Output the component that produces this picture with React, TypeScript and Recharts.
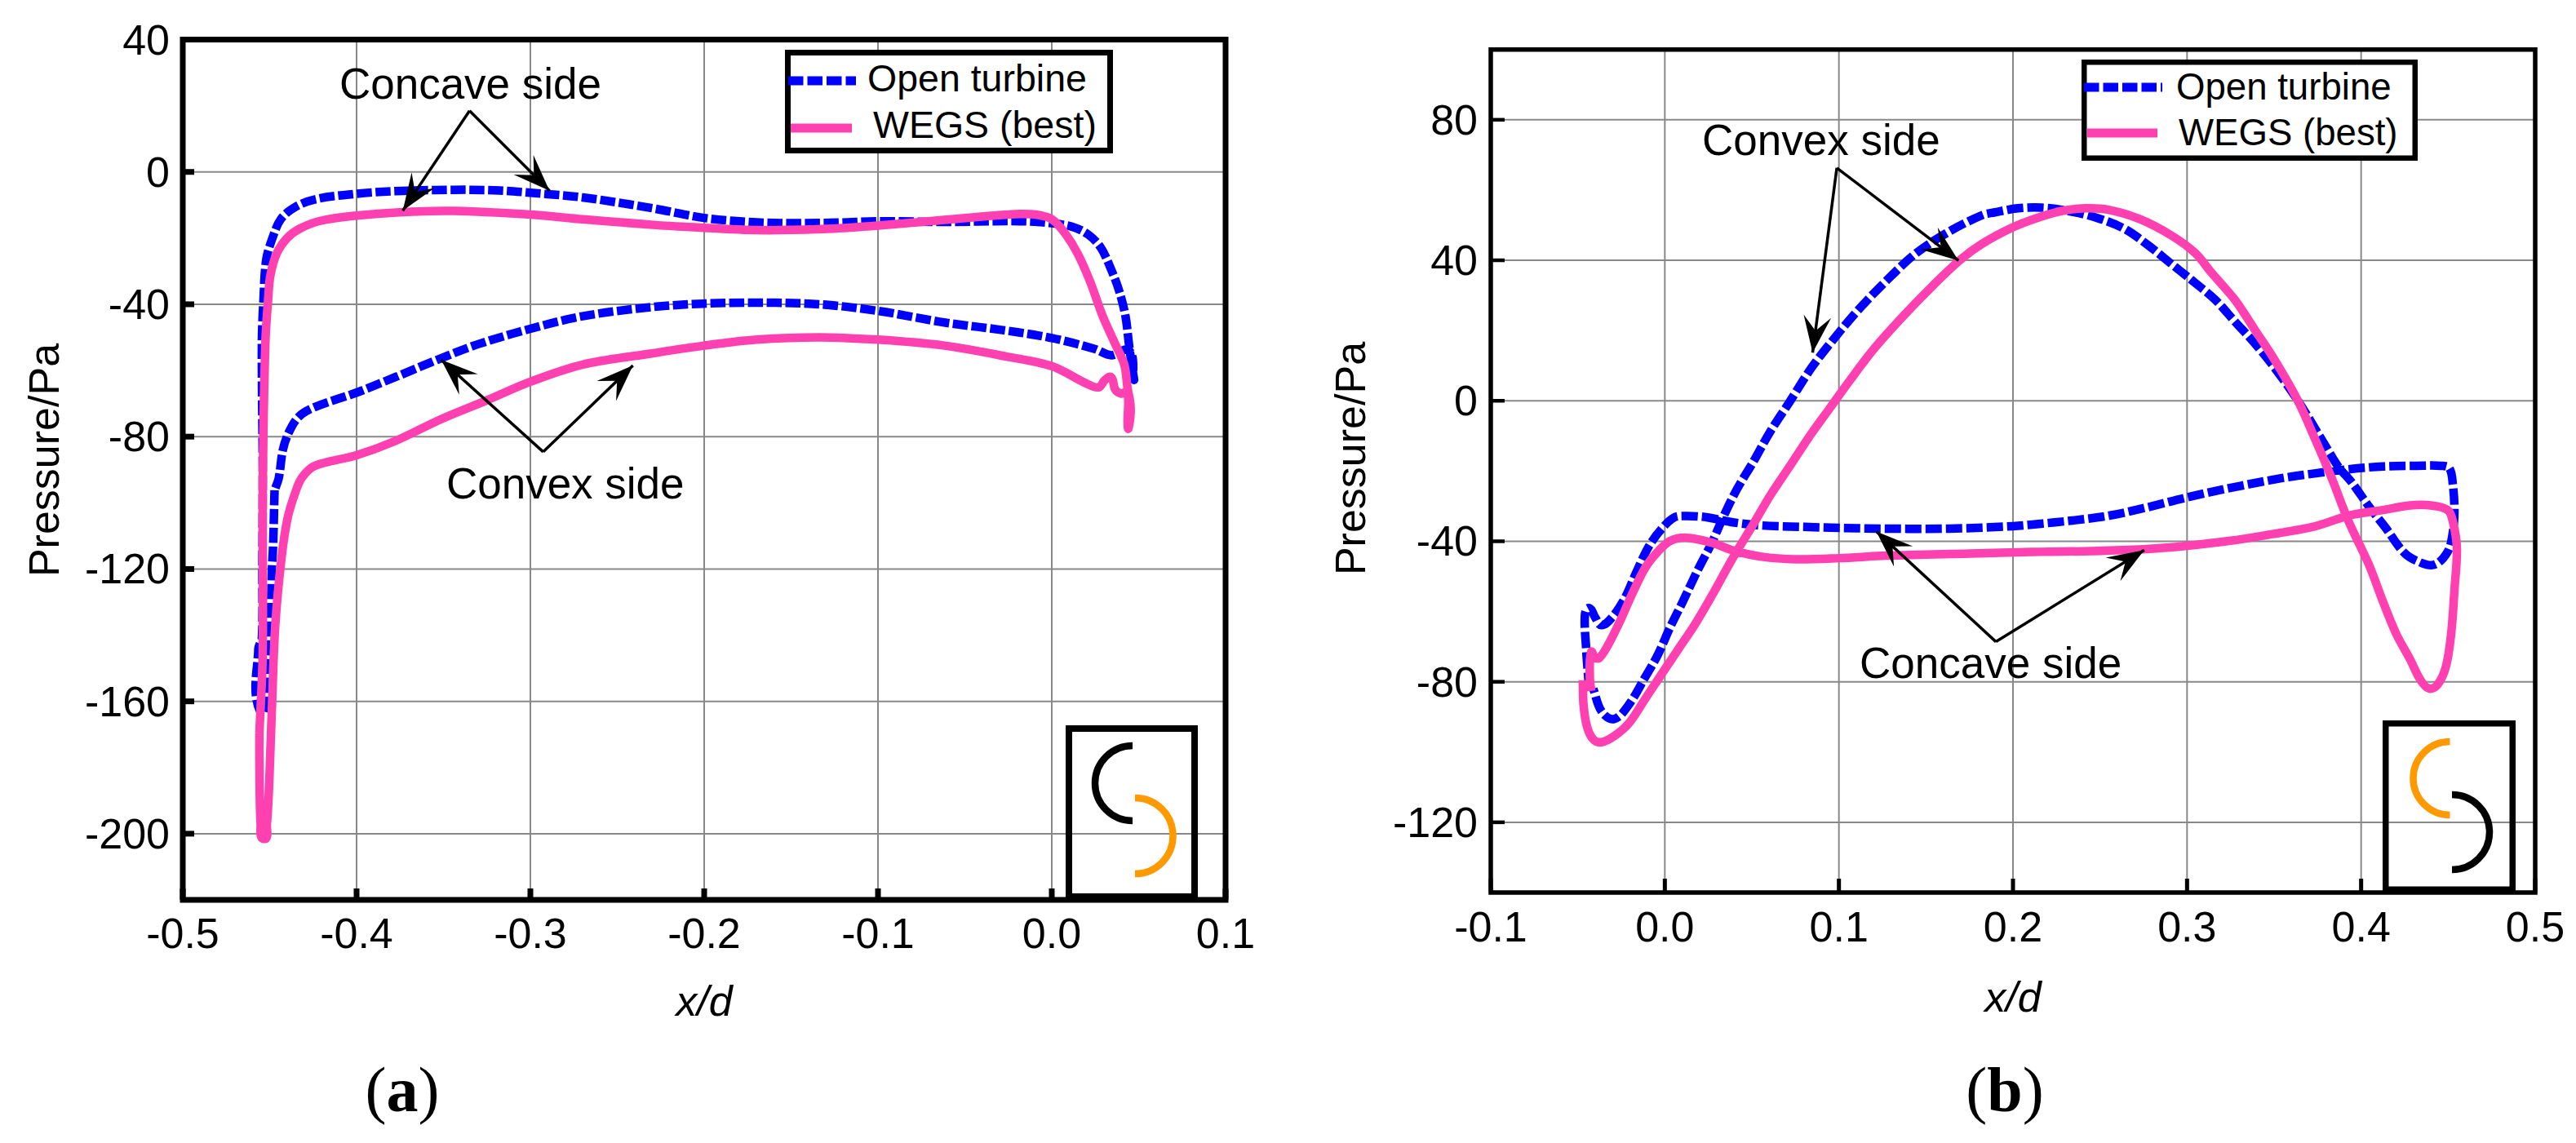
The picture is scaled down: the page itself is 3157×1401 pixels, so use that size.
import React from "react";
import {
  CartesianGrid,
  Legend,
  Line,
  LineChart,
  ReferenceArea,
  ReferenceDot,
  ReferenceLine,
  XAxis,
  YAxis,
} from "recharts";

const SANS = '"Liberation Sans", Arial, sans-serif';
const BLUE = "#0000ff";
const PINK = "#ff40b0";
const ORANGE = "#ff9900";

const openTurbineA = [
  [-0.4472, -96.2], [-0.448, -112.6], [-0.4487, -120], [-0.4496, -135.6], [-0.4516, -149.5], [-0.4555, -163],
  [-0.4565, -144], [-0.4545, -141], [-0.4542, -120], [-0.454, -90], [-0.4545, -52], [-0.4535, -38], [-0.452, -26.6],
  [-0.4484, -20], [-0.4436, -14.3], [-0.4353, -10.6], [-0.4233, -8.2], [-0.4, -6.6], [-0.3777, -5.8],
  [-0.344, -5.4], [-0.3177, -5.6], [-0.3, -6.3], [-0.27, -7.7], [-0.2295, -11], [-0.2, -13.9],
  [-0.1746, -15.1], [-0.1506, -15.5], [-0.1218, -15.3], [-0.1, -14.9], [-0.0619, -15.1], [-0.0187, -14.9],
  [0, -15.5], [0.0125, -16.7], [0.0209, -18.9], [0.0281, -22.8], [0.0341, -29.4], [0.0388, -36],
  [0.0424, -43.6], [0.0444, -52], [0.0456, -56.8], [0.0472, -62.5], [0.0445, -54], [0.0343, -55.4],
  [0.0247, -53.5], [0, -50.2], [-0.0283, -47.8], [-0.0619, -45.5], [-0.1, -42], [-0.1338, -40],
  [-0.1698, -39.5], [-0.2, -39.8], [-0.2295, -40.8], [-0.27, -43.6], [-0.3, -47.4], [-0.3297, -52],
  [-0.3513, -56.3], [-0.3777, -62], [-0.4, -66.7], [-0.4233, -70.9], [-0.4329, -73.8], [-0.4388, -78.5],
  [-0.4424, -84], [-0.4448, -92.6], [-0.4472, -96.2],
];
const wegsA = [
  [-0.4559, -169.5], [-0.4559, -178], [-0.4552, -197], [-0.4532, -201.6], [-0.4516, -197], [-0.4504, -186.4],
  [-0.4487, -161.8], [-0.4468, -137.2], [-0.4432, -116.7], [-0.4396, -104.4], [-0.4348, -96.2], [-0.4317, -92.6],
  [-0.4257, -89.3], [-0.4185, -87.9], [-0.4, -85.6], [-0.3777, -81.3], [-0.3513, -74.7], [-0.325, -69],
  [-0.3, -63.4], [-0.2698, -58.2], [-0.2295, -54.8], [-0.2, -52.5], [-0.1698, -50.7], [-0.1338, -50],
  [-0.1, -50.7], [-0.0619, -52.5], [-0.0259, -55.8], [0, -58.7], [0.0197, -63.9], [0.0269, -65.1],
  [0.0305, -62.9], [0.0341, -62], [0.0365, -65.8], [0.04, -67], [0.0436, -66.5], [0.0438, -77.4],
  [0.0452, -74], [0.0452, -70], [0.0436, -65.3], [0.0417, -58.2], [0.0365, -52], [0.0293, -43.6], [0.0221, -33.2],
  [0.0149, -24.7], [0.0077, -18.6], [0, -14.3], [-0.0091, -12.9], [-0.0187, -12.7], [-0.0331, -13.2],
  [-0.0619, -14.5], [-0.1, -16.2], [-0.129, -17.2], [-0.1578, -17.6], [-0.177, -17.5], [-0.2, -16.9],
  [-0.2295, -16], [-0.2698, -14.3], [-0.3, -12.9], [-0.3441, -11.8], [-0.3753, -12.2], [-0.4, -13.2],
  [-0.4209, -14.8], [-0.4329, -17.2], [-0.44, -20], [-0.446, -24.7], [-0.4496, -31.3], [-0.4508, -37.9],
  [-0.4525, -52], [-0.454, -96], [-0.454, -145.4], [-0.4559, -169.5],
];

// panel (b)
const openTurbineB = [
  [-0.0435, -82], [-0.0452, -70.6], [-0.0459, -60.8], [-0.0435, -59], [-0.04, -61.7], [-0.0364, -63.9],
  [-0.0304, -61.7], [-0.0232, -56.4], [-0.016, -48.4], [-0.0089, -41.2], [-0.0017, -36.4], [0.0055, -33.2],
  [0.0127, -32.8], [0.0246, -33.2], [0.039, -34.6], [0.0557, -35.5], [0.0797, -35.9], [0.1, -36.2],
  [0.1275, -36.4], [0.1634, -36.4], [0.2, -35.7], [0.2159, -35], [0.2356, -34], [0.2552, -32.7],
  [0.2749, -30.6], [0.3, -27.5], [0.324, -24.9], [0.3534, -22.1], [0.3731, -20.7], [0.3927, -19.5],
  [0.4124, -18.7], [0.432, -18.5], [0.4458, -18.5], [0.4507, -19.2], [0.4527, -23.9], [0.4536, -31.1],
  [0.4527, -37.4], [0.4497, -43], [0.4418, -46.7], [0.432, -45.6], [0.4242, -43], [0.4143, -36.3],
  [0.4045, -30.1], [0.3947, -23.3], [0.3868, -18.7], [0.379, -12.4], [0.3637, 0], [0.3501, 9.5],
  [0.3388, 16.4], [0.3274, 22.6], [0.3161, 28.8], [0.3048, 33.5], [0.2912, 38.9], [0.2776, 44.3],
  [0.2639, 49], [0.2481, 52.1], [0.2322, 54], [0.2163, 55], [0.2027, 54.8], [0.1891, 53.6],
  [0.1825, 52.9], [0.1634, 48.2], [0.1443, 42], [0.1275, 34.3], [0.1108, 25.7], [0.0964, 17.2],
  [0.0844, 9.5], [0.0713, -0.6], [0.0605, -8.8], [0.051, -17.2], [0.0414, -25.2], [0.0342, -32.4],
  [0.027, -40.4], [0.0187, -48.4], [0.0103, -57.2], [0.0031, -64.4], [-0.0041, -72.4], [-0.0112, -78.6],
  [-0.0208, -86.6], [-0.0292, -90.6], [-0.0364, -88.4], [-0.0411, -82],
];
const wegsB = [
  [-0.0471, -79.5], [-0.0467, -86.6], [-0.0447, -92.8], [-0.0411, -96.4], [-0.0364, -97.2], [-0.0292, -95.5],
  [-0.0208, -91.9], [-0.0112, -84.8], [-0.0017, -77.7], [0.0079, -70.6], [0.0175, -63.5], [0.027, -55.5],
  [0.039, -44.8], [0.051, -35], [0.0605, -27], [0.0725, -18.1], [0.0844, -9.2], [0.0952, -1.8],
  [0.106, 5.6], [0.1203, 14.9], [0.1371, 24.2], [0.1538, 32.7], [0.1694, 40], [0.1823, 44.7],
  [0.2, 49.4], [0.2141, 52.1], [0.2277, 54], [0.2413, 54.8], [0.2549, 54.4], [0.273, 51.7],
  [0.2912, 47], [0.3048, 42], [0.3138, 36.6], [0.3274, 28.8], [0.3388, 20.3], [0.3501, 11.8],
  [0.3637, 0], [0.3731, -10.4], [0.3829, -21.8], [0.3927, -34.2], [0.4045, -46.7], [0.4124, -57],
  [0.4202, -66.4], [0.4281, -73.6], [0.434, -79.4], [0.4389, -81.9], [0.4438, -80.9], [0.4487, -75.7],
  [0.4517, -66.4], [0.4536, -53.9], [0.455, -41.9], [0.4526, -34.2], [0.4497, -31.1], [0.4399, -29.8],
  [0.4281, -29.8], [0.4124, -31.1], [0.3927, -32.7], [0.3731, -35.8], [0.3436, -38.4], [0.324, -39.9],
  [0.3, -41.3], [0.2749, -42.3], [0.2454, -42.8], [0.2159, -43], [0.1754, -43.5], [0.1275, -44.1],
  [0.1, -44.8], [0.0749, -45.1], [0.0557, -44.4], [0.039, -42.6], [0.027, -40.4], [0.0127, -39],
  [0.0031, -39.9], [-0.0041, -43], [-0.0112, -47.5], [-0.0184, -54.6], [-0.0256, -62.6], [-0.0328, -69.7],
  [-0.0376, -73.2], [-0.04, -73.2], [-0.0423, -71.5], [-0.0431, -78.6], [-0.0423, -82.6],
];

const xTicksA = [-0.5, -0.4, -0.3, -0.2, -0.1, 0, 0.1];
const yTicksA = [-200, -160, -120, -80, -40, 0, 40];
const xTicksB = [-0.1, 0, 0.1, 0.2, 0.3, 0.4, 0.5];
const yTicksB = [-120, -80, -40, 0, 40, 80];

// [apex x, apex y, tip x, tip y]
const arrowsA = [
  [-0.335, 18.5, -0.3734, -11.7],
  [-0.335, 18.5, -0.289, -5.7],
  [-0.2926, -84.6, -0.3513, -56.8],
  [-0.2926, -84.6, -0.241, -58.5],
];
const arrowsB = [
  [0.0988, 66.3, 0.0849, 13.7],
  [0.0988, 66.3, 0.1687, 39.9],
  [0.1902, -68.6, 0.1215, -37.2],
  [0.1902, -68.6, 0.2754, -42.5],
];
const notesA = [
  { text: "Concave side", x: -0.4099, y: 22.06 },
  { text: "Convex side", x: -0.3484, y: -98.8 },
];
const notesB = [
  { text: "Convex side", x: 0.0214, y: 69.9 },
  { text: "Concave side", x: 0.1119, y: -78.9 },
];

const toPoints = (pairs: number[][]) => pairs.map(([x, y]) => ({ x, y }));

// loops double back in x, so the stock monotone curves don't fit; rounded spline through the points
function loopCurve(ctx: any) {
  let pts: number[][] = [];
  const tangent = (i: number) => {
    const a = pts[Math.max(i - 1, 0)];
    const b = pts[Math.min(i + 1, pts.length - 1)];
    const dx = b[0] - a[0];
    const dy = b[1] - a[1];
    const len = Math.hypot(dx, dy) || 1;
    return [dx / len, dy / len];
  };
  return {
    areaStart() {},
    areaEnd() {},
    lineStart() {
      pts = [];
    },
    point(x: number, y: number) {
      pts.push([+x, +y]);
    },
    lineEnd() {
      pts.forEach((p, i) => {
        if (i === 0) {
          ctx.moveTo(p[0], p[1]);
          return;
        }
        const q = pts[i - 1];
        const d = Math.hypot(p[0] - q[0], p[1] - q[1]) / 3;
        const t0 = tangent(i - 1);
        const t1 = tangent(i);
        ctx.bezierCurveTo(q[0] + t0[0] * d, q[1] + t0[1] * d, p[0] - t1[0] * d, p[1] - t1[1] * d, p[0], p[1]);
      });
    },
  };
}

function ArrowShape(props: any) {
  const { x1, y1, x2, y2 } = props;
  const a = Math.atan2(y2 - y1, x2 - x1);
  const at = (back: number, side: number) => {
    const px = x2 - back * Math.cos(a) - side * Math.sin(a);
    const py = y2 - back * Math.sin(a) + side * Math.cos(a);
    return `${px},${py}`;
  };
  return (
    <g>
      <line x1={x1} y1={y1} x2={x2} y2={y2} stroke="#000" strokeWidth={3.5} />
      <polygon points={`${x2},${y2} ${at(45, 17)} ${at(27, 0)} ${at(45, -17)}`} fill="#000" />
    </g>
  );
}

function makeLegend(o: any) {
  return function LegendBox(props: any) {
    const items = props.payload || [];
    return (
      <svg width={o.w} height={o.h} style={{ display: "block" }}>
        <rect x={o.b / 2} y={o.b / 2} width={o.w - o.b} height={o.h - o.b} fill="#fff" stroke="#000" strokeWidth={o.b} />
        {items.map((it: any, i: number) => (
          <g key={it.value}>
            <line
              x1={o.lines[i][0]}
              x2={o.lines[i][1]}
              y1={o.lines[i][2]}
              y2={o.lines[i][2]}
              stroke={it.color}
              strokeWidth={11}
              strokeDasharray={i === 0 ? "18.5 5" : undefined}
            />
            <text x={o.texts[i][0]} y={o.texts[i][1]} fontFamily={SANS} fontSize={o.font} fill="#000">
              {it.value}
            </text>
          </g>
        ))}
      </svg>
    );
  };
}

function Panel(p: any) {
  const XTick = (t: any) => (
    <g>
      <line x1={t.x} x2={t.x} y1={t.y} y2={t.y - p.xTickLen} stroke="#000" strokeWidth={p.xTickW} />
      <text x={t.x} y={t.y + p.xLabelDy} textAnchor="middle" fontFamily={SANS} fontSize={52} fill="#000">
        {t.payload.value.toFixed(1)}
      </text>
    </g>
  );
  const YTick = (t: any) => (
    <g>
      <line x1={t.x} x2={t.x + p.yTickLen} y1={t.y} y2={t.y} stroke="#000" strokeWidth={p.yTickW} />
      <text x={t.x - 16} y={t.y + 18} textAnchor="end" fontFamily={SANS} fontSize={52} fill="#000">
        {t.payload.value}
      </text>
    </g>
  );
  const xTitle = (l: any) => (
    <text x={l.viewBox.x + l.viewBox.width / 2} y={p.xTitleY} textAnchor="middle" fontFamily={SANS} fontStyle="italic" fontSize={52} fill="#000">
      x/d
    </text>
  );
  const yTitle = () => (
    <text transform={`translate(${p.yTitleX},${p.yTitleY}) rotate(-90)`} textAnchor="middle" fontFamily={SANS} fontSize={52} fill="#000">
      Pressure/Pa
    </text>
  );
  const LegendBox = makeLegend(p.legend);
  return (
    <div style={{ position: "absolute", left: p.left, top: 0 }}>
      <LineChart
        width={p.width}
        height={1401}
        margin={{ top: p.plotTop, right: p.width - p.plotRight, bottom: 1401 - p.plotBottom - 200, left: 0 }}
      >
        <CartesianGrid stroke="#888" strokeWidth={2} />
        <XAxis
          type="number"
          dataKey="x"
          domain={p.xDomain}
          ticks={p.xTicks}
          interval={0}
          height={200}
          tickSize={0}
          tickMargin={0}
          axisLine={false}
          tickLine={false}
          tick={XTick}
          label={xTitle}
          allowDataOverflow
        />
        <YAxis
          type="number"
          dataKey="y"
          domain={p.yDomain}
          ticks={p.yTicks}
          interval={0}
          width={p.plotLeft}
          tickSize={0}
          tickMargin={0}
          axisLine={false}
          tickLine={false}
          tick={YTick}
          label={yTitle}
          allowDataOverflow
        />
        <Line
          data={p.open}
          dataKey="y"
          name="Open turbine"
          type={loopCurve as any}
          stroke={BLUE}
          strokeWidth={10.5}
          strokeDasharray={p.dash}
          strokeLinejoin="round"
          dot={false}
          activeDot={false}
          isAnimationActive={false}
        />
        <Line
          data={p.wegs}
          dataKey="y"
          name="WEGS (best)"
          type={loopCurve as any}
          stroke={PINK}
          strokeWidth={10.5}
          strokeLinejoin="round"
          dot={false}
          activeDot={false}
          isAnimationActive={false}
        />
        <ReferenceArea
          x1={p.xDomain[0]}
          x2={p.xDomain[1]}
          y1={p.yDomain[0]}
          y2={p.yDomain[1]}
          fill="none"
          stroke="#000"
          strokeWidth={p.frame}
          ifOverflow="visible"
        />
        {p.arrows.map((a: number[], i: number) => (
          <ReferenceLine
            key={i}
            segment={[{ x: a[0], y: a[1] }, { x: a[2], y: a[3] }]}
            shape={ArrowShape}
            ifOverflow="visible"
          />
        ))}
        {p.notes.map((n: any) => (
          <ReferenceDot
            key={n.text}
            x={n.x}
            y={n.y}
            r={0}
            ifOverflow="visible"
            shape={(d: any) => (
              <text x={d.cx} y={d.cy} fontFamily={SANS} fontSize={53} fill="#000">
                {n.text}
              </text>
            )}
          />
        ))}
        <Legend
          layout="horizontal"
          verticalAlign="middle"
          align="center"
          wrapperStyle={{ left: p.legend.x - p.left, top: p.legend.y, width: p.legend.w, height: p.legend.h }}
          content={LegendBox}
        />
      </LineChart>
    </div>
  );
}

function Inset({ box, arcs }: any) {
  const [x0, y0, x1, y1, b] = box;
  return (
    <g fill="none">
      <rect x={x0 + b / 2} y={y0 + b / 2} width={x1 - x0 - b} height={y1 - y0 - b} stroke="#000" strokeWidth={b} />
      {arcs.map(([cx, cy, r, dir, color]: any) => (
        <path
          key={color}
          d={`M${cx},${cy - r} A${r},${r} 0 0 ${dir} ${cx},${cy + r}`}
          stroke={color}
          strokeWidth={8.5}
        />
      ))}
    </g>
  );
}

export default function App() {
  return (
    <div style={{ position: "absolute", left: 0, top: 0, width: 3157, height: 1401, background: "#fff", overflow: "hidden" }}>
      <Panel
        left={0}
        width={1560}
        plotLeft={224}
        plotRight={1502}
        plotTop={48.5}
        plotBottom={1103}
        xDomain={[-0.5, 0.1]}
        yDomain={[-220, 40]}
        xTicks={xTicksA}
        yTicks={yTicksA}
        open={toPoints(openTurbineA)}
        wegs={toPoints(wegsA)}
        arrows={arrowsA}
        notes={notesA}
        dash="18.5 4.5"
        frame={7}
        xTickLen={14}
        xTickW={7}
        yTickLen={14}
        yTickW={7}
        xLabelDy={59}
        xTitleY={1245}
        yTitleX={72}
        yTitleY={564}
        legend={{
          x: 962, y: 61, w: 402, h: 127, b: 7, font: 46.5,
          lines: [[4, 87, 38], [7, 82, 96]],
          texts: [[101, 51], [108, 108]],
        }}
      />
      <Panel
        left={1560}
        width={1597}
        plotLeft={267}
        plotRight={1547}
        plotTop={60.7}
        plotBottom={1094}
        xDomain={[-0.1, 0.5]}
        yDomain={[-140, 100]}
        xTicks={xTicksB}
        yTicks={yTicksB}
        open={toPoints(openTurbineB)}
        wegs={toPoints(wegsB)}
        arrows={arrowsB}
        notes={notesB}
        dash="20 5"
        frame={5.5}
        xTickLen={17}
        xTickW={5}
        yTickLen={17}
        yTickW={4.5}
        xLabelDy={60}
        xTitleY={1240}
        yTitleX={113}
        yTitleY={562}
        legend={{
          x: 2551, y: 73, w: 412, h: 124, b: 6.5, font: 45.6,
          lines: [[3, 99, 34], [7, 93, 90]],
          texts: [[116, 49], [119, 105]],
        }}
      />
      <svg width={3157} height={1401} style={{ position: "absolute", left: 0, top: 0, pointerEvents: "none" }}>
        <Inset box={[1306, 889, 1468, 1103, 8]} arcs={[[1388, 960, 46, 0, "#000"], [1391, 1024.5, 46.5, 1, ORANGE]]} />
        <Inset box={[2920, 883, 3083, 1094, 7.5]} arcs={[[3002.5, 954, 45, 0, ORANGE], [3005, 1020, 46, 1, "#000"]]} />
        <text x={493} y={1362} textAnchor="middle" fontFamily='"Liberation Serif", serif' fontSize={78} fill="#000">
          (<tspan fontWeight="bold">a</tspan>)
        </text>
        <text x={2457} y={1362} textAnchor="middle" fontFamily='"Liberation Serif", serif' fontSize={78} fill="#000">
          (<tspan fontWeight="bold">b</tspan>)
        </text>
      </svg>
    </div>
  );
}
